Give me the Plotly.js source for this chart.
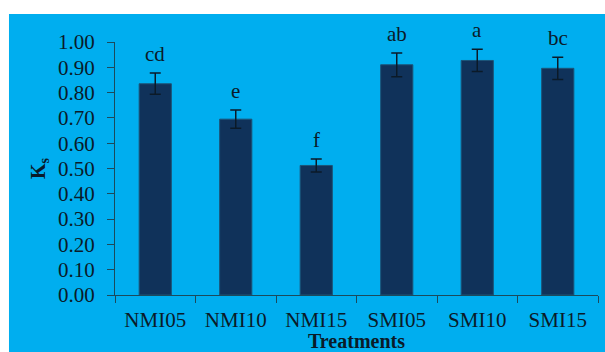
<!DOCTYPE html>
<html>
<head>
<meta charset="utf-8">
<script src="https://cdn.plot.ly/plotly-3.0.1.min.js"></script>
<style>html,body{margin:0;padding:0;background:#fff;}#chart{width:605px;height:352px;}</style>
</head>
<body>
<div id="chart"></div>
<script>
const treatments = ["NMI05", "NMI10", "NMI15", "SMI05", "SMI10", "SMI15"];
const ksValues = [0.835, 0.695, 0.512, 0.910, 0.927, 0.896];
const ksErrors = [0.042, 0.036, 0.026, 0.047, 0.044, 0.044];
const groupLetters = ["cd", "e", "f", "ab", "a", "bc"];
const yTickValues = [0, 0.1, 0.2, 0.3, 0.4, 0.5, 0.6, 0.7, 0.8, 0.9, 1.0];

const textColor = "#0a1b29";
const fontFam = "Liberation Serif, Times New Roman, serif";

const trace = {
  type: "bar",
  x: treatments,
  y: ksValues,
  marker: {color: "#10325a", line: {color: "#1c5478", width: 1}},
  error_y: {type: "data", array: ksErrors, visible: true, color: "#0b1a28", thickness: 1.5, width: 5.5},
  hoverinfo: "skip"
};

const annotations = treatments.map((t, i) => ({
  x: t, y: ksValues[i] + ksErrors[i], xref: "x", yref: "y",
  text: groupLetters[i], showarrow: false, yanchor: "bottom", yshift: 5,
  font: {family: fontFam, size: 21, color: textColor}
}));

const layout = {
  width: 605, height: 352,
  margin: {l: 115, r: 7, t: 42, b: 57, pad: 0},
  paper_bgcolor: "#ffffff",
  plot_bgcolor: "rgba(0,0,0,0)",
  bargap: 0.6,
  showlegend: false,
  font: {family: fontFam, color: textColor},
  shapes: [{
    type: "rect", xref: "paper", yref: "paper", layer: "below",
    x0: -0.2195, x1: 1.02, y0: -0.23, y1: 1.1107,
    fillcolor: "#00aeef", line: {width: 0}
  }],
  xaxis: {
    type: "category",
    showline: true, linecolor: "#1b4a5c", linewidth: 1,
    ticks: "outside", tickson: "boundaries", ticklen: 7, tickcolor: "#1b4a5c",
    ticklabelstandoff: 6,
    tickfont: {family: fontFam, size: 21, color: textColor},
    showgrid: false, zeroline: false,
    title: {text: "<b>Treatments</b>", font: {family: fontFam, size: 20, color: textColor}, standoff: 3}
  },
  yaxis: {
    range: [0, 1.0],
    tickvals: yTickValues,
    tickformat: ".2f",
    showline: true, linecolor: "#1b4a5c", linewidth: 1,
    ticks: "outside", ticklen: 7, tickcolor: "#1b4a5c",
    ticklabelstandoff: 8,
    tickfont: {family: fontFam, size: 21, color: textColor},
    showgrid: false, zeroline: false,
    title: {text: "<b>K<sub>s</sub></b>", font: {family: fontFam, size: 20, color: textColor}, standoff: 7}
  },
  annotations: annotations
};

Plotly.newPlot("chart", [trace], layout, {displayModeBar: false, staticPlot: true});
</script>
</body>
</html>
